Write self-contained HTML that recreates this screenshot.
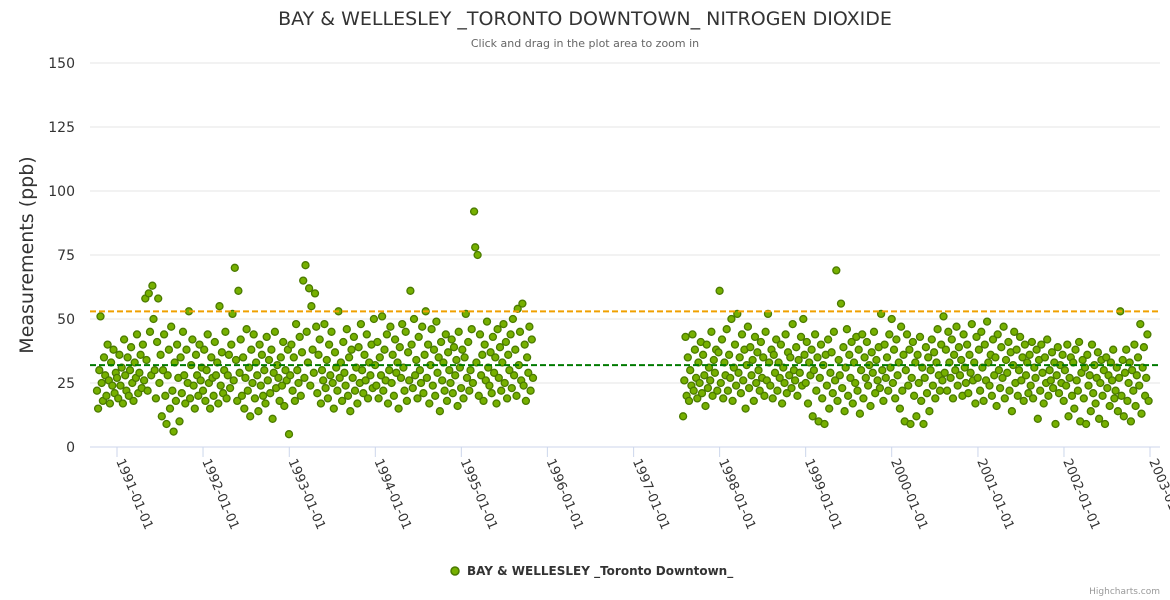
<!DOCTYPE html>
<html><head><meta charset="utf-8"><style>
body{margin:0;background:#fff;}
svg{display:block;font-family:"DejaVu Sans","Liberation Sans",sans-serif;}
</style></head><body>
<svg id="chart" width="1170" height="600">
<text x="585" y="25" text-anchor="middle" font-size="19" fill="#333">BAY &amp; WELLESLEY _TORONTO DOWNTOWN_ NITROGEN DIOXIDE</text>
<text x="585" y="47" text-anchor="middle" font-size="11" fill="#666">Click and drag in the plot area to zoom in</text>
<text transform="translate(33,255) rotate(-90)" text-anchor="middle" font-size="19" fill="#333">Measurements (ppb)</text>
<g id="grid"></g><g id="xaxis"></g><g id="pts"></g><g id="plotlines"></g>
<g>
<circle cx="455" cy="571" r="4" fill="#76b000" stroke="#4a7a00" stroke-width="1.5"/>
<text x="467" y="575" font-size="12" font-weight="bold" fill="#333">BAY &amp; WELLESLEY _Toronto Downtown_</text>
</g>
<text x="1160" y="594" text-anchor="end" font-size="9" fill="#999">Highcharts.com</text>
</svg>
<script>
const yTicks=[0,25,50,75,100,125,150];
const xTickYears=[1991,1992,1993,1994,1995,1996,1997,1998,1999,2000,2001,2002,2003];
const seg1Start='1990-10-08';
const seg2Start='1997-07-30';
const stepDays=5;
const seg1Values=[22,15,30,51,25,18,35,28,20,40,26,17,33,24,38,21,29,
27,19,36,24,31,17,42,28,22,35,20,30,39,25,18,33,27,44,21,29,36,23,40,26,
58,34,22,60,45,28,63,50,30,19,41,58,
25,36,12,30,44,20,9,28,38,15,47,22,6,33,18,40,27,10,
35,21,45,28,17,38,25,53,19,32,42,24,15,36,28,20,40,26,31,
22,38,18,30,44,25,15,35,27,20,41,28,33,17,55,24,37,21,30,45,19,28,36,23,
40,52,26,70,34,18,61,29,42,20,35,15,27,46,22,31,12,38,25,44,
19,33,28,14,40,24,36,20,30,17,43,26,34,21,38,11,29,45,23,32,
27,18,35,24,41,16,30,26,38,
5,28,40,22,35,18,48,30,25,43,20,37,65,27,71,45,33,62,24,55,38,29,60,47,
21,36,42,17,30,26,48,23,34,19,40,28,45,25,15,37,31,22,53,27,
33,18,41,29,24,46,20,35,14,38,27,43,22,31,17,39,25,48,30,21,
36,26,44,19,33,28,40,23,50,
32,24,41,19,35,28,51,22,38,26,44,17,30,47,25,36,20,42,29,33,15,39,27,48,
31,22,45,18,37,26,61,40,23,50,28,34,19,43,30,25,47,21,36,53,
27,40,17,32,46,24,38,20,49,29,35,14,41,26,33,22,44,18,37,30,
25,42,21,39,28,34,16,45,31,
23,38,19,35,52,27,41,22,30,46,25,92,78,33,75,20,44,28,36,18,40,26,49,31,
24,37,21,43,29,35,17,46,27,39,22,33,48,25,41,19,36,30,44,23,
50,28,38,20,54,32,45,26,56,24,40,18,35,29,47,22,42,27];
const seg2Values=[12,26,43,20,35,18,30,24,44,22,38,27,19,33,25,41,21,36,28,16,40,23,31,26,45,20,34,29,38,22,37,
61,25,42,19,33,28,46,22,36,27,50,18,31,40,24,52,29,35,21,44,26,38,15,32,
47,23,39,28,34,18,43,25,37,30,22,41,27,35,20,45,26,52,33,24,
38,19,36,29,42,22,33,27,40,17,31,25,44,21,37,28,35,23,48,30,
26,39,20,34,29,43,24,50,36,
25,41,17,33,28,38,12,30,44,22,35,10,27,40,19,32,9,36,24,42,15,29,37,21,
45,26,69,18,34,28,56,23,39,14,31,46,20,36,27,41,17,33,25,43,
22,38,13,30,44,19,35,27,41,24,32,16,37,29,45,21,34,26,39,23,
52,30,18,40,27,35,22,44,31,
50,25,38,19,42,28,33,15,47,22,36,10,30,44,24,38,9,27,41,20,33,12,36,25,
43,18,31,9,27,39,21,35,14,30,42,24,37,19,33,46,28,22,40,26,
51,29,38,22,45,33,27,42,19,36,30,47,24,39,28,34,20,44,31,25,
40,21,36,29,48,26,33,17,43,
27,38,22,45,31,18,40,26,49,33,24,36,20,42,28,35,16,44,30,23,39,27,47,19,
34,29,41,22,37,14,32,45,25,38,20,30,43,26,35,18,40,28,33,21,
36,24,41,19,31,27,38,11,34,22,40,29,17,35,25,42,20,30,26,37,
23,33,9,28,39,21,32,25,36,
18,30,24,40,12,27,35,20,33,15,38,26,22,41,10,29,34,19,31,9,36,24,28,14,
40,21,32,17,27,37,11,25,34,20,30,9,35,23,28,16,33,26,38,19,
22,31,14,27,53,20,34,12,29,38,18,25,33,10,30,22,40,16,28,35,
24,48,13,31,39,20,27,44,18];
const plotLineValues=[53,32];
const plotLineColors=['#f0a000','#007a00'];

const NS='http://www.w3.org/2000/svg';
const X0=90,X1=1160,Y0=447,Y150=63;
const t0=Date.UTC(1991,0,1),t1=Date.UTC(2003,0,1);
function xs(t){return 117+(t-t0)/(t1-t0)*(1150-117);}
function ys(v){return Y0-(v/150)*(Y0-Y150);}
function mk(tag,a,p){const e=document.createElementNS(NS,tag);for(const k in a)e.setAttribute(k,a[k]);p.appendChild(e);return e;}
const grid=document.getElementById('grid');
yTicks.forEach(v=>{
  const l=mk('line',{x1:X0,x2:X1,y1:ys(v),y2:ys(v),stroke:v===0?'#ccd6eb':'#e6e6e6','stroke-width':1},grid);
  
  
  const t=mk('text',{x:75,y:ys(v)+5,'text-anchor':'end','font-size':14,fill:'#333'},grid);
  t.textContent=v;
  
  
});
const xa=document.getElementById('xaxis');
xTickYears.forEach(yr=>{
  const x=xs(Date.UTC(yr,0,1));
  const tk=mk('line',{x1:x,x2:x,y1:Y0,y2:Y0+10,stroke:'#ccd6eb'},xa);
  
  
  const t=mk('text',{transform:`translate(${x-1},${Y0+14}) rotate(67)`,'font-size':13,fill:'#333'},xa);
  t.textContent=yr+'-01-01';
  
  
});
const pts=document.getElementById('pts');
function drawSeg(start,vals){
  const s=Date.parse(start);
  vals.forEach((v,i)=>{
    const t=s+i*stepDays*86400000;
    const c=mk('circle',{cx:xs(t).toFixed(1),cy:ys(v).toFixed(1),r:3.5,fill:'#76b000',stroke:'#4a7a00','stroke-width':1.3},pts);
    
    
  });
}
drawSeg(seg1Start,seg1Values);
drawSeg(seg2Start,seg2Values);
const pl=document.getElementById('plotlines');
plotLineValues.forEach((v,i)=>{
  const l=mk('line',{x1:X0,x2:X1,y1:ys(v),y2:ys(v),stroke:plotLineColors[i],'stroke-width':2,'stroke-dasharray':'6,3'},pl);
  
  
});
</script>
</body></html>
